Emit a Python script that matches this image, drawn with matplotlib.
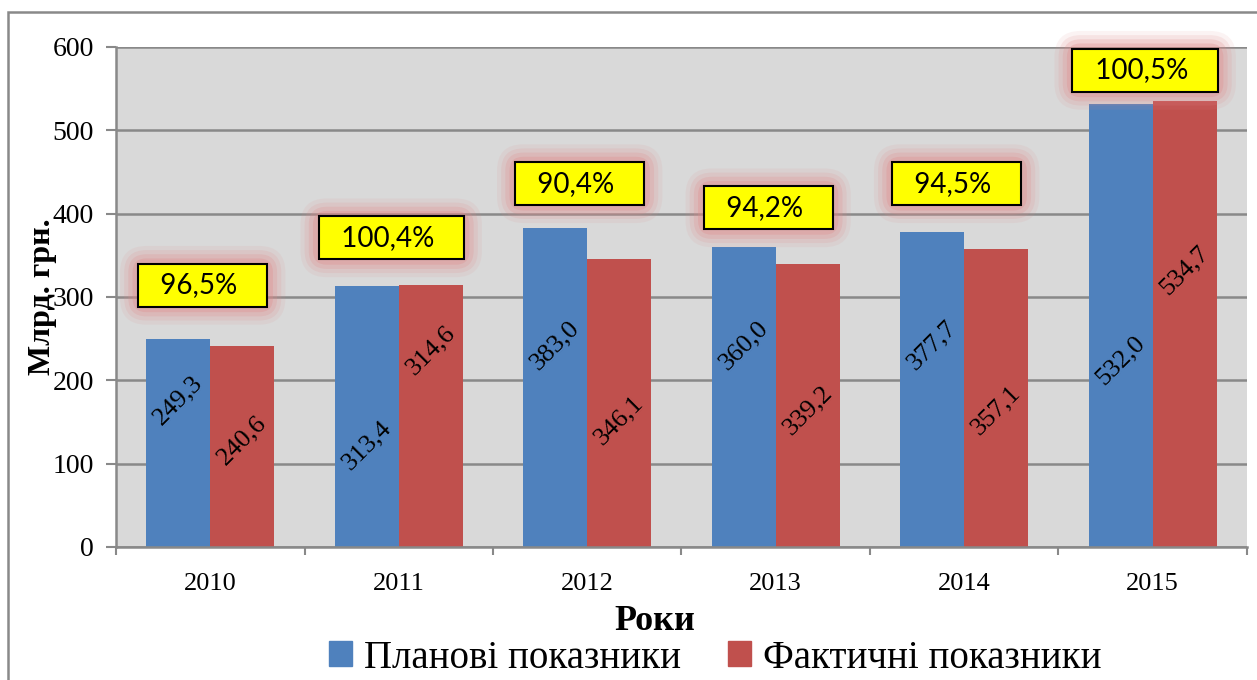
import matplotlib.pyplot as plt
import numpy as np
from matplotlib.patches import Rectangle, Patch

years = ['2010', '2011', '2012', '2013', '2014', '2015']
plan = [249.3, 313.4, 383.0, 360.0, 377.7, 532.0]
fact = [240.6, 314.6, 346.1, 339.2, 357.1, 534.7]
pct = ['96,5%', '100,4%', '90,4%', '94,2%', '94,5%', '100,5%']
# where the labels sit (data units)
pct_y = [314, 371, 436, 407, 436, 572]
plan_lbl_y = [176, 122, 242, 242, 242, 224]
fact_lbl_y = [128, 236, 152, 164, 164, 332]

blue = '#4f81bd'
red = '#c0504d'
serif = 'Liberation Serif'

fig = plt.figure(figsize=(12.57, 6.8), dpi=100)
ax = fig.add_axes([0.0923, 0.1956, 0.8997, 0.7353])
ax.set_facecolor('#d9d9d9')

x = np.arange(len(years))
w = 0.34
ax.bar(x - w / 2, plan, w, color=blue, zorder=2)
ax.bar(x + w / 2, fact, w, color=red, zorder=2)

ax.set_xlim(-0.5, len(years) - 0.5)
ax.set_ylim(0, 600)
ax.set_yticks(range(0, 601, 100))
ax.yaxis.grid(True, color='#898989', lw=1.8, zorder=1)
ax.set_axisbelow(True)

ax.set_xticks(x)
ax.set_xticklabels(years, fontsize=19, family=serif)
ax.set_xticks(np.arange(-0.5, len(years)), minor=True)
ax.tick_params(axis='x', which='major', length=0, pad=19)
ax.tick_params(axis='x', which='minor', length=6, width=1.5, color='#898989')
ax.tick_params(axis='y', length=7, width=1.5, color='#898989', labelsize=20, pad=9)
for t in ax.get_yticklabels():
    t.set_family(serif)

for s in ['top', 'right']:
    ax.spines[s].set_visible(False)
for s in ['left', 'bottom']:
    ax.spines[s].set_color('#898989')
    ax.spines[s].set_linewidth(1.8)

ax.set_ylabel('Млрд. грн.', fontsize=23, fontweight='bold', family=serif)
ax.yaxis.set_label_coords(-0.052, 0.5)

for i in range(len(years)):
    ax.text(x[i] - w / 2, plan_lbl_y[i], f'{plan[i]:.1f}'.replace('.', ','),
            rotation=45, ha='center', va='center', fontsize=19, family=serif, zorder=4)
    ax.text(x[i] + w / 2, fact_lbl_y[i], f'{fact[i]:.1f}'.replace('.', ','),
            rotation=45, ha='center', va='center', fontsize=19, family=serif, zorder=4)
    s = '  ' + pct[i] + '   '
    # soft pink glow round the box
    for pad, a in [(0.95, 0.10), (0.8, 0.15), (0.65, 0.22), (0.5, 0.3)]:
        ax.text(x[i] - 0.04, pct_y[i], s, fontsize=20, family='Lato', color='none',
                ha='center', va='center', zorder=3, clip_on=False,
                bbox=dict(boxstyle=f'round,pad={pad}', fc='#e08a8a', ec='none', alpha=a))
    ax.text(x[i] - 0.04, pct_y[i], s, fontsize=20, family='Lato',
            ha='center', va='center', zorder=5, clip_on=False,
            bbox=dict(boxstyle='square,pad=0.3', fc='#ffff00', ec='black', lw=1.5))

fig.text(655 / 1257, 1 - 622 / 680, 'Роки', fontsize=26, fontweight='bold', family=serif,
         ha='center', va='center')

handles = [Patch(color=blue, label='Планові показники'),
           Patch(color=red, label='Фактичні показники')]
fig.legend(handles=handles, loc='center', bbox_to_anchor=(715 / 1257, 1 - 658 / 680), ncol=2,
           frameon=False, prop={'family': serif, 'size': 28}, handlelength=0.6,
           handleheight=0.6, handletextpad=0.3, columnspacing=1.2, borderpad=0)

# outer chart frame
fig.add_artist(Rectangle((8 / 1257, -0.1), 1.1, 1 - 12 / 680 + 0.1, transform=fig.transFigure,
                         fill=False, ec='#898989', lw=1.8))

fig.savefig('out.png', dpi=100)
